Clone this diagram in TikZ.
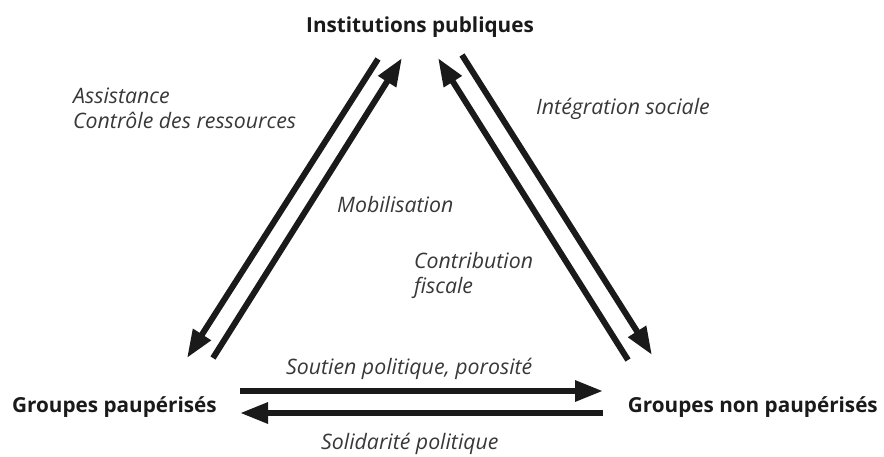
\documentclass[tikz,border=0pt]{standalone}
\usepackage{fontspec}
\setmainfont{Open Sans}
\usetikzlibrary{arrows.meta}
\definecolor{ink}{HTML}{1A1A1A}
\definecolor{lbl}{HTML}{383838}
\tikzset{
  flow/.style={line width=6pt, draw=ink, -{Triangle[length=28pt,width=20pt]}},
  actor/.style={font=\fontsize{20.7}{24}\selectfont\bfseries, text=ink, inner sep=0pt},
  lab/.style={font=\fontsize{21.3}{25}\selectfont\itshape, text=lbl, inner sep=0pt, align=left},
}
\begin{document}
\begin{tikzpicture}[x=1pt,y=-1pt]
\useasboundingbox (0,0) rectangle (884,456);
% actors
\node[actor, anchor=base] (inst) at (420,32) {Institutions publiques};
\node[actor, anchor=base west] (pauv) at (12,412) {Groupes paupérisés};
\node[actor, anchor=base east] (nonp) at (878,412) {Groupes non paupérisés};
% labels
\node[lab, anchor=base west] (assist) at (73,103) {Assistance};
\node[lab, anchor=base west] (ctrl) at (73,128) {Contrôle des ressources};
\node[lab, anchor=base west] (integ) at (536,114) {Intégration sociale};
\node[lab, anchor=base west] (mobil) at (337,212) {Mobilisation};
\node[lab, anchor=base west] (contr) at (414,268) {Contribution};
\node[lab, anchor=base west] (fisc) at (414,293) {fiscale};
\node[lab, anchor=base west] (sout) at (286,374) {Soutien politique, porosité};
\node[lab, anchor=base west] (solid) at (321,449) {Solidarité politique};
% arrow end points
\coordinate (a1s) at (378,59);  \coordinate (a1e) at (187,358);
\coordinate (a2s) at (213,358); \coordinate (a2e) at (402,58);
\coordinate (a3s) at (628,360); \coordinate (a3e) at (438,58);
\coordinate (a4s) at (462,55);  \coordinate (a4e) at (652,355);
\coordinate (b1s) at (240,391); \coordinate (b1e) at (603,391);
\coordinate (b2s) at (603,413); \coordinate (b2e) at (240,413);
% arrows
\draw[flow] (a1s) -- (a1e);
\draw[flow] (a2s) -- (a2e);
\draw[flow] (a3s) -- (a3e);
\draw[flow] (a4s) -- (a4e);
\draw[flow] (b1s) -- (b1e);
\draw[flow] (b2s) -- (b2e);
\end{tikzpicture}
\end{document}
